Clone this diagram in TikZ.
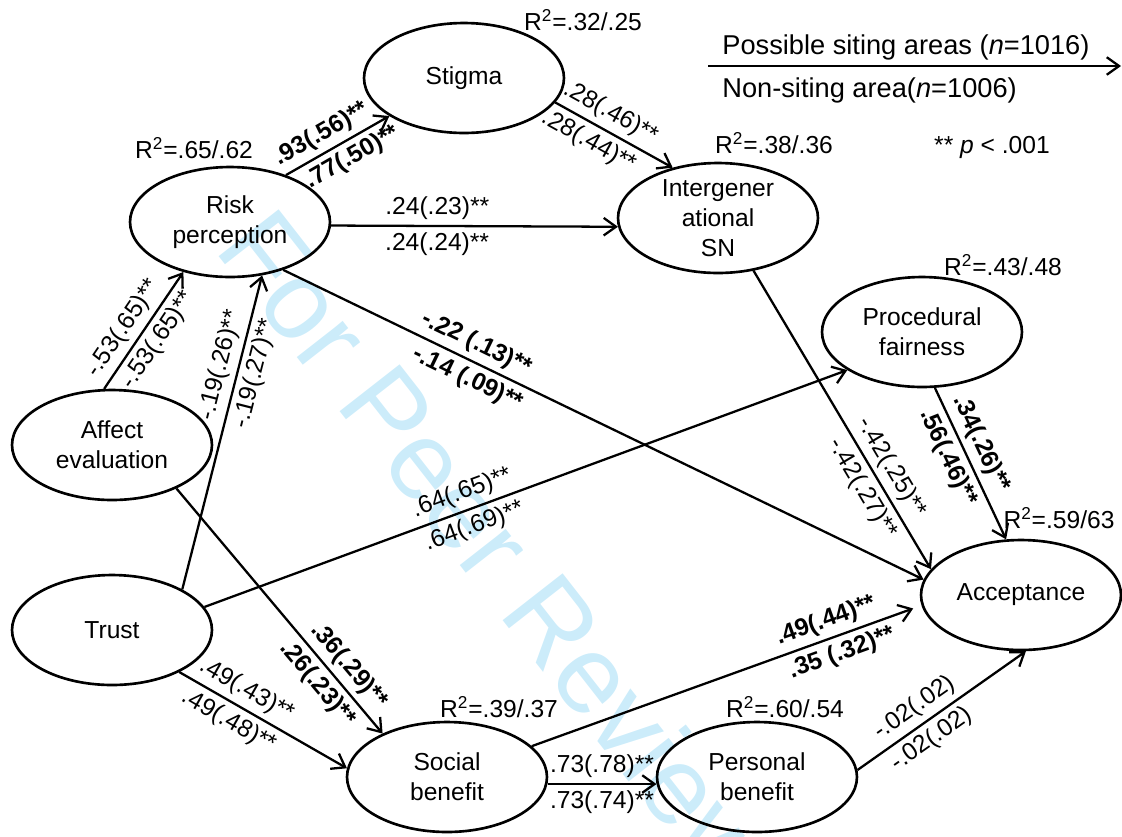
\documentclass[tikz,border=0pt]{standalone}
\usepackage{fontspec}
\setmainfont{Liberation Sans}
\usetikzlibrary{arrows.meta,shapes.geometric}

\definecolor{wmark}{RGB}{204,236,250}
\newcommand{\stars}{**}

\tikzset{
  latent/.style={draw, ellipse, line width=1.5pt, minimum width=4cm, minimum height=2.2cm,
    inner sep=0pt, align=center, font=\fontsize{14}{17}\selectfont},
  link/.style={->, line width=1.3pt},
  coef/.style={font=\fontsize{14}{17}\selectfont, sloped, inner sep=3pt},
  rsq/.style={font=\fontsize{14}{17}\selectfont, inner sep=0pt},
  legend/.style={font=\fontsize{15.5}{18}\selectfont, inner sep=0pt, anchor=west},
}

\begin{document}
\begin{tikzpicture}[x=0.02cm, y=-0.02cm, >={Straight Barb[length=7pt,width=10pt]}]
\useasboundingbox (0,0) rectangle (1122,836);

% watermark
\node[text=wmark, font=\fontsize{63}{63}\selectfont, rotate=-52] (wm) at (498,550) {For Peer Review};

% latent variables
\node[latent] (stigma) at (464,78) {Stigma};
\node[latent] (risk) at (230,222) {Risk\\perception};
\node[latent, inner sep=-4pt] (sn) at (718,218) {Intergener\\ational\\SN};
\node[latent] (proc) at (922,332) {Procedural\\fairness};
\node[latent] (affect) at (112,445) {Affect\\evaluation};
\node[latent] (trust) at (112,630) {Trust};
\node[latent] (accept) at (1021,595) {Acceptance};
\node[latent] (social) at (447,777) {Social\\benefit};
\node[latent] (personal) at (757,777) {Personal\\benefit};

% R squared
\node[rsq] (r2stigma) at (583,20) {R\textsuperscript{2}=.32/.25};
\node[rsq] (r2risk) at (194,148) {R\textsuperscript{2}=.65/.62};
\node[rsq] (r2sn) at (774,143) {R\textsuperscript{2}=.38/.36};
\node[rsq] (r2proc) at (1003,265) {R\textsuperscript{2}=.43/.48};
\node[rsq] (r2accept) at (1059,518) {R\textsuperscript{2}=.59/63};
\node[rsq] (r2social) at (499,707) {R\textsuperscript{2}=.39/.37};
\node[rsq] (r2personal) at (785,707) {R\textsuperscript{2}=.60/.54};

% legend
\node[legend] (grpa) at (722,47) {Possible siting areas (\textit{n}=1016)};
\node[legend] (grpb) at (722,90) {Non-siting area(\textit{n}=1006)};
\coordinate (lega) at (708,66);
\coordinate (legb) at (1121,66);
\draw[link] (lega) -- (legb);
\node[rsq] (pval) at (992,147) {** \textit{p} < .001};

% paths
\draw[link] (risk.40) -- (stigma.207)
  node[coef, pos=.43, above] {\textbf{.93(.56)\stars}}
  node[coef, pos=.56, below] {\textbf{.77(.50)\stars}};
\draw[link] (stigma.-15) -- (sn.132)
  node[coef, pos=.40, above] {.28(.46)\stars}
  node[coef, pos=.36, below] {.28(.44)\stars};
\draw[link] (risk.-2) -- (sn.185)
  node[coef, pos=.37, above] {.24(.23)\stars}
  node[coef, pos=.37, below] {.24(.24)\stars};
\draw[link] (affect.98) -- (risk.227)
  node[coef, pos=.43, above] {-.53(.65)\stars}
  node[coef, pos=.50, below] {-.53(.65)\stars};
\draw[link] (trust.30) -- (risk.-59)
  node[coef, pos=.70, above] {-.19(.26)\stars}
  node[coef, pos=.70, below] {-.19(.27)\stars};
\draw[link] (risk.-42) -- (accept.171)
  node[coef, pos=.29, above] {\textbf{-.22 (.13)\stars}}
  node[coef, pos=.30, below] {\textbf{-.14 (.09)\stars}};
\draw[link] (sn.-56) -- (accept.164)
  node[coef, pos=.69, above] {-.42(.25)\stars}
  node[coef, pos=.70, below] {-.42(.27)\stars};
\draw[link] (proc.-77) -- (accept.105)
  node[coef, pos=.42, above] {\textbf{.34(.26)\stars}}
  node[coef, pos=.41, below] {\textbf{.56(.46)\stars}};
\draw[link] (trust.14) -- (proc.207)
  node[coef, pos=.41, above] {.64(.65)\stars}
  node[coef, pos=.41, below] {.64(.69)\stars};
\draw[link] (affect.-34) -- (social.146)
  node[coef, pos=.77, above] {\textbf{.36(.29)\stars}}
  node[coef, pos=.75, below] {\textbf{.26(.23)\stars}};
\draw[link] (trust.-32) -- (social.175)
  node[coef, pos=.35, above] {.49(.43)\stars}
  node[coef, pos=.35, below] {.49(.48)\stars};
\draw[link] (social.-4) -- (personal.184)
  node[coef, pos=.5, above] {.73(.78)\stars}
  node[coef, pos=.5, below] {.73(.74)\stars};
\draw[link, shorten >=5pt] (social.20) -- (accept.186)
  node[coef, pos=.77, above] {\textbf{.49(.44)\stars}}
  node[coef, pos=.78, below] {\textbf{.35 (.32)\stars}};
\draw[link] (personal.4) -- (accept.-85)
  node[coef, pos=.40, above] {-.02(.02)}
  node[coef, pos=.38, below] {-.02(.02)};
\end{tikzpicture}
\end{document}
